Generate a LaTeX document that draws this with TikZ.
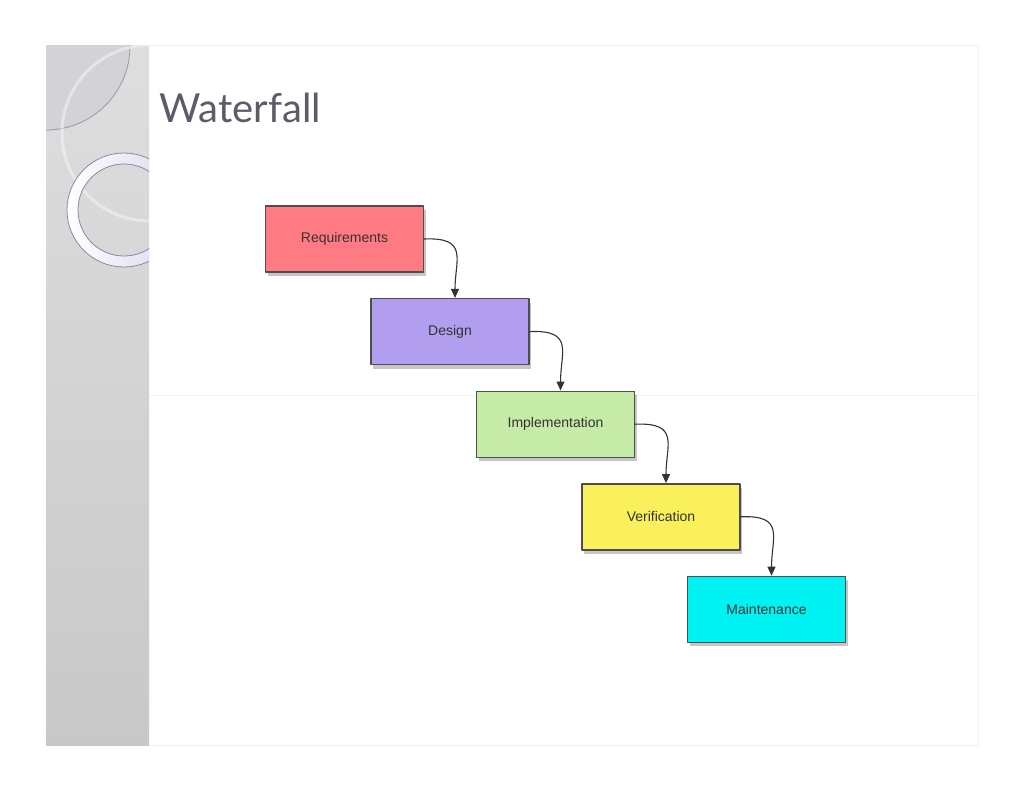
\documentclass[tikz,border=0pt]{standalone}
\usepackage{fontspec}
\setsansfont{Liberation Sans}
\newfontfamily\titlefont{Lato}
\usetikzlibrary{arrows.meta,shadows}
\definecolor{reqcol}{HTML}{FF7B84}
\definecolor{descol}{HTML}{B19EEE}
\definecolor{impcol}{HTML}{C5EBA7}
\definecolor{vercol}{HTML}{FAF05C}
\definecolor{maicol}{HTML}{00F2F2}
\definecolor{boxline}{HTML}{4D4D4D}
\definecolor{titlecol}{HTML}{5C5C68}
\definecolor{striptop}{HTML}{DEDEDE}
\definecolor{stripbot}{HTML}{C8C8C8}
\definecolor{checkfill}{HTML}{D3D3D5}
\definecolor{arcline}{HTML}{9C94AC}
\definecolor{ringcol}{HTML}{DCD6EE}
\definecolor{ringline}{HTML}{8F879F}
\begin{document}
\begin{tikzpicture}[x=1pt, y=-1pt, font=\sffamily\fontsize{14}{16}\selectfont, line join=round, line cap=round, >={Triangle[width=8pt,length=9pt]},
  stage/.style={draw=boxline, line width=1.4pt, minimum width=158pt, minimum height=66pt, inner sep=0pt, text=black!80,
    drop shadow={shadow xshift=2pt, shadow yshift=-4pt, opacity=0.45}}]
  \def\sx{105.5}\def\sy{92.6}
  \useasboundingbox (0,0) rectangle (1024,792);
  \draw[black!6, line width=1pt] (46,46) rectangle (978,745);
  \draw[black!5] (149,395) -- (978,395);
  \shade[top color=striptop, bottom color=stripbot] (46,46) rectangle (149,745);
  \begin{scope}
    \clip (46,46) rectangle (149,745);
    \fill[checkfill] (46,46) circle[radius=84pt];
    \draw[arcline, line width=0.8pt] (46,46) circle[radius=84pt];
    \draw[white!70!ringcol, line width=3pt, opacity=0.55] (150,133) circle[radius=88pt];
    \shade[even odd rule, left color=white, right color=ringcol] (124,210) circle[radius=57pt] (124,210) circle[radius=46pt];
    \draw[ringline, line width=0.8pt] (124,210) circle[radius=57pt] (124,210) circle[radius=46pt];
  \end{scope}
  \node[anchor=base west, font=\titlefont\fontsize{40}{48}\selectfont, text=titlecol] (title) at (156,122) {Waterfall};
  \foreach \name/\txt/\col [count=\i from 0] in {req/Requirements/reqcol, des/Design/descol, imp/Implementation/impcol, ver/Verification/vercol, mai/Maintenance/maicol}
    \node[stage, fill=\col] (\name) at ({344.5+\sx*\i},{239+\sy*\i}) {\txt};
  \foreach \a/\b in {req/des, des/imp, imp/ver, ver/mai}
    \draw[->, line width=1.1pt, black!80] (\a.east) .. controls +(45,-2) and +(0,-38) .. ([xshift=5pt]\b.north);
\end{tikzpicture}
\end{document}
